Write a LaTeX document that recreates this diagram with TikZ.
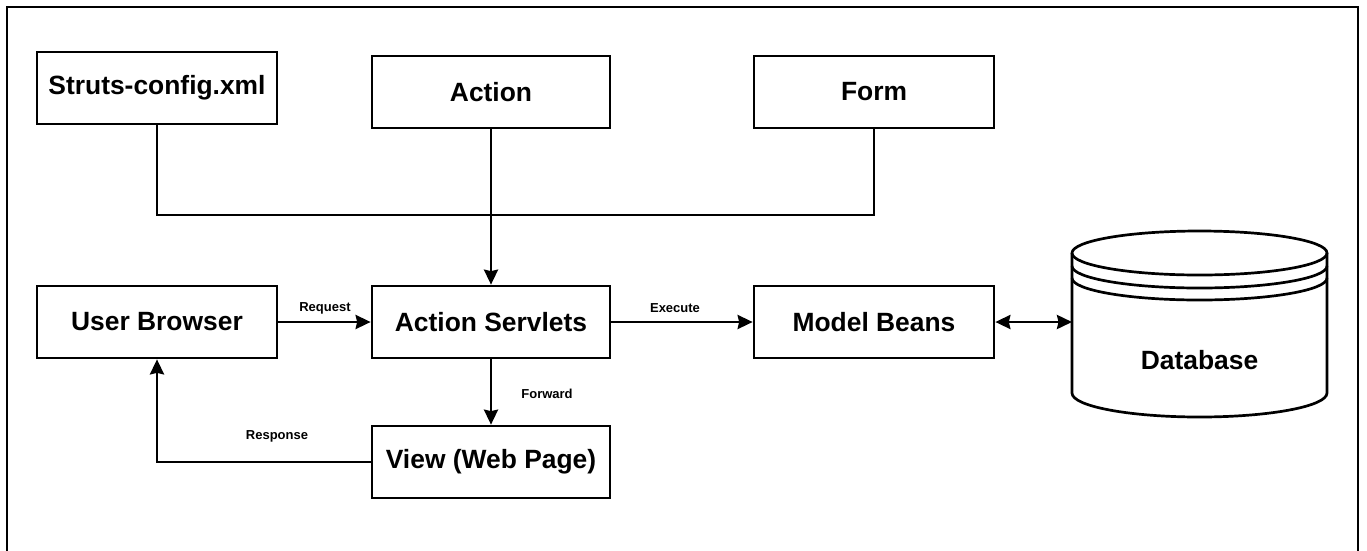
\documentclass[tikz,border=0pt]{standalone}
\usepackage{fontspec}
\setmainfont{Liberation Sans}
\usetikzlibrary{arrows.meta}
\begin{document}
\begin{tikzpicture}[x=1pt,y=-1pt,
  line width=2.7pt,
  box/.style={draw,rectangle,minimum width=240pt,minimum height=72pt,inner sep=0pt,
    font=\fontsize{26.4}{30}\selectfont\bfseries},
  lbl/.style={inner sep=0pt,font=\fontsize{13}{15}\selectfont\bfseries},
  tip/.style={Stealth[length=15pt,width=14pt,inset=1.5pt]},
  arr/.style={-{Stealth[length=15pt,width=14pt,inset=1.5pt]}},
  darr/.style={{Stealth[length=15pt,width=14pt,inset=1.5pt]}-{Stealth[length=15pt,width=14pt,inset=1.5pt]}}]
\useasboundingbox (0,0) rectangle (1367,550);
% outer frame
\draw (7,556) -- (7,7) -- (1358,7) -- (1358,556);
% boxes
\node[box] (struts) at (157,88) {Struts-config.xml};
\node[box,minimum width=238pt] (action) at (491,92) {Action};
\node[box,minimum width=240pt] (form) at (874,92) {Form};
\node[box] (user) at (157,322) {User Browser};
\node[box,minimum width=238pt] (servlets) at (491,322) {Action Servlets};
\node[box,minimum width=240pt] (model) at (874,322) {Model Beans};
\node[box,minimum width=238pt] (view) at (491,462) {View (Web Page)};
% database cylinder
\coordinate (dbw) at (1072,322);
\draw[fill=white] (1199.5,253) ellipse[x radius=127.5pt,y radius=22pt];
\draw (1072,266) arc[start angle=180,end angle=360,x radius=127.5pt,y radius=22pt];
\draw (1072,278) arc[start angle=180,end angle=360,x radius=127.5pt,y radius=22pt];
\draw (1072,253) -- (1072,393) arc[start angle=180,end angle=360,x radius=127.5pt,y radius=24pt] -- (1327,253);
\node[inner sep=0pt,font=\fontsize{26.4}{30}\selectfont\bfseries] (dblabel) at (1199.5,360) {Database};
% connectors
\coordinate (join) at (491,215);
\draw (struts.south) -- (struts.south |- join) -- (form.south |- join) -- (form.south);
\draw[arr] (action.south) -- (servlets.north);
\draw[arr] (user.east) -- (servlets.west);
\draw[arr] (servlets.east) -- (model.west);
\draw[arr] (servlets.south) -- (view.north);
\draw[arr] (view.west) -| (user.south);
\draw[darr] (model.east) -- (dbw);
% labels
\node[lbl] (lreq) at (325,308) {Request};
\node[lbl] (lexe) at (675,308) {Execute};
\node[lbl] (lfwd) at (547,394) {Forward};
\node[lbl] (lres) at (277,436) {Response};
\end{tikzpicture}
\end{document}
